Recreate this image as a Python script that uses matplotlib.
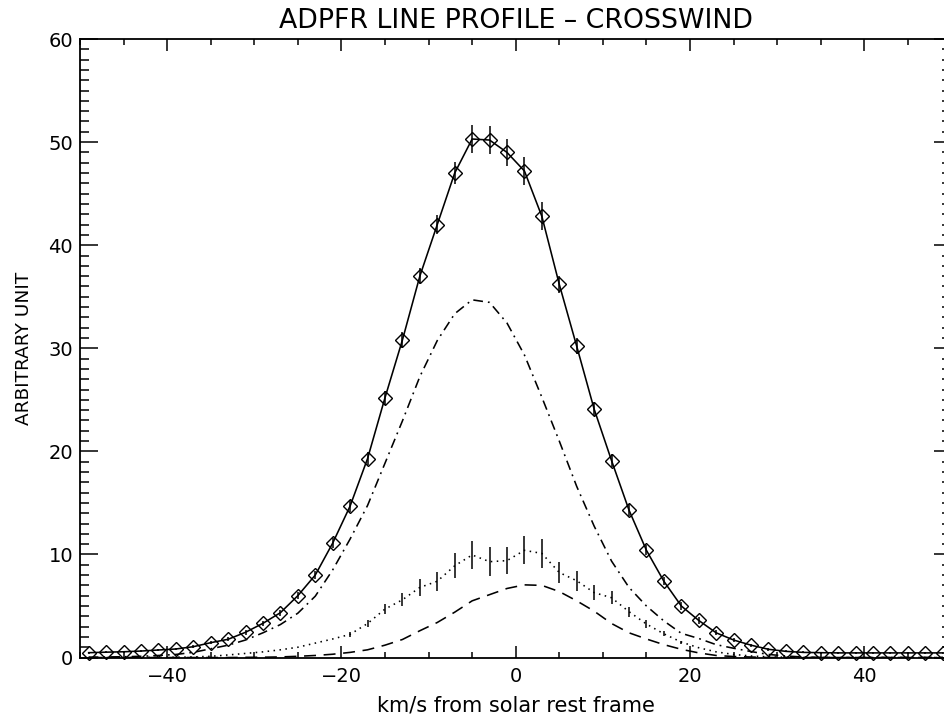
import numpy as np
import matplotlib
matplotlib.use("Agg")
import matplotlib.pyplot as plt
from matplotlib.ticker import MultipleLocator

# velocity grid of the measured points (km/s)
velocity = list(range(-49, 50, 2))

# total profile (diamonds) and its error bars
total = [0.47, 0.52, 0.56, 0.63, 0.73, 0.83, 1.05, 1.44, 1.77, 2.45,
         3.32, 4.35, 6.0, 8.0, 11.1, 14.7, 19.3, 25.2, 30.8, 37.0,
         42.0, 47.0, 50.3, 50.2, 49.0, 47.2, 42.8, 36.2, 30.2, 24.1,
         19.1, 14.3, 10.4, 7.4, 5.0, 3.6, 2.4, 1.7, 1.2, 0.8,
         0.6, 0.5, 0.47, 0.45, 0.45, 0.45, 0.45, 0.45, 0.45, 0.45]
total_err = [0.1, 0.1, 0.1, 0.1, 0.1, 0.1, 0.12, 0.15, 0.2, 0.22,
             0.25, 0.3, 0.35, 0.4, 0.45, 0.55, 0.6, 0.7, 0.75, 0.8,
             0.9, 1.1, 1.4, 1.4, 1.3, 1.4, 1.35, 0.85, 0.75, 0.7,
             0.6, 0.55, 0.5, 0.4, 0.35, 0.3, 0.25, 0.2, 0.15, 0.12,
             0.1, 0.1, 0.1, 0.1, 0.1, 0.1, 0.1, 0.1, 0.1, 0.1]

# dash-dot component
comp_dashdot = [0.03, 0.05, 0.08, 0.12, 0.2, 0.3, 0.5, 0.85, 1.2, 1.7,
                2.4, 3.2, 4.3, 5.95, 8.5, 11.5, 14.75, 18.85, 22.95, 27.25,
                30.75, 33.35, 34.7, 34.45, 32.45, 29.35, 25.25, 21.0, 16.6, 12.75,
                9.35, 6.8, 5.0, 3.55, 2.35, 1.85, 1.25, 0.9, 0.58, 0.3,
                0.15, 0.05, 0.02, 0.0, 0.0, 0.0, 0.0, 0.0, 0.0, 0.0]

# dotted component (with error bars)
comp_dotted = [0.0, 0.0, 0.0, 0.0, 0.02, 0.03, 0.06, 0.12, 0.25, 0.4,
               0.55, 0.75, 1.0, 1.4, 1.8, 2.25, 3.3, 4.7, 5.6, 6.8,
               7.4, 8.9, 9.95, 9.3, 9.4, 10.4, 10.1, 8.25, 7.45, 6.3,
               5.8, 4.45, 3.25, 2.3, 1.5, 0.95, 0.55, 0.3, 0.15, 0.07,
               0.03, 0.0, 0.0, 0.0, 0.0, 0.0, 0.0, 0.0, 0.0, 0.0]
dotted_err = [0, 0, 0, 0, 0, 0, 0, 0, 0, 0,
              0, 0, 0, 0, 0, 0.27, 0.36, 0.49, 0.62, 0.81,
              0.92, 1.2, 1.39, 1.39, 1.3, 1.36, 1.41, 1.05, 0.97, 0.76,
              0.65, 0.5, 0.4, 0.25, 0.15, 0, 0, 0, 0, 0,
              0, 0, 0, 0, 0, 0, 0, 0, 0, 0]

# dashed component
comp_dashed = [0, 0, 0, 0, 0, 0, 0, 0, 0, 0.02,
               0.03, 0.06, 0.12, 0.2, 0.32, 0.5, 0.75, 1.2, 1.75, 2.6,
               3.4, 4.4, 5.5, 6.1, 6.7, 7.05, 7.0, 6.4, 5.5, 4.5,
               3.3, 2.4, 1.8, 1.25, 0.8, 0.45, 0.2, 0.1, 0.05, 0.0,
               0, 0, 0, 0, 0, 0, 0, 0, 0, 0]

plt.rcParams['font.family'] = ['DejaVu Sans']
plt.rcParams['lines.scale_dashes'] = False

fig = plt.figure(figsize=(9.44, 7.24), dpi=100)
ax = fig.add_axes([0.0847, 0.0918, 0.9232, 0.8543])

lw = 1.15
ax.plot(velocity, total, color='black', lw=lw, marker='D', ms=6.8,
        mfc='none', mec='black', mew=1.0, clip_on=False, zorder=3)
ax.errorbar(velocity, total, yerr=total_err, fmt='none', ecolor='black',
            elinewidth=1.1, capsize=0, zorder=3)

ax.plot(velocity, comp_dashdot, color='black', lw=lw,
        linestyle=(0, (7, 3.6, 1.3, 3.6)))
ax.plot(velocity, comp_dotted, color='black', lw=lw,
        linestyle=(0, (1.1, 3.2)))
ax.errorbar(velocity, comp_dotted, yerr=dotted_err, fmt='none',
            ecolor='black', elinewidth=1.1, capsize=0)
ax.plot(velocity, comp_dashed, color='black', lw=lw,
        linestyle=(0, (8.6, 5.5)))

ax.set_xlim(-50, 50)
ax.set_ylim(0, 60)
ax.xaxis.set_major_locator(MultipleLocator(20))
ax.xaxis.set_minor_locator(MultipleLocator(5))
ax.yaxis.set_major_locator(MultipleLocator(10))
ax.yaxis.set_minor_locator(MultipleLocator(1))

ax.tick_params(which='both', direction='in', top=True, right=True,
               labelsize=14, width=1.1, colors='black')
ax.tick_params(axis='x', which='major', length=8.6, pad=7)
ax.tick_params(axis='x', which='minor', length=4.3)
ax.tick_params(axis='y', which='major', length=12.6, pad=5)
ax.tick_params(axis='y', which='minor', length=6.3)
for sp in ax.spines.values():
    sp.set_linewidth(1.3)

ax.set_title('ADPFR LINE PROFILE \u2013 CROSSWIND', fontsize=19.3, pad=8)
ax.set_xlabel('km/s from solar rest frame', fontsize=15, labelpad=7)
ax.set_ylabel('ARBITRARY UNIT', fontsize=13.3, labelpad=11)

fig.savefig('out.png', dpi=100)
